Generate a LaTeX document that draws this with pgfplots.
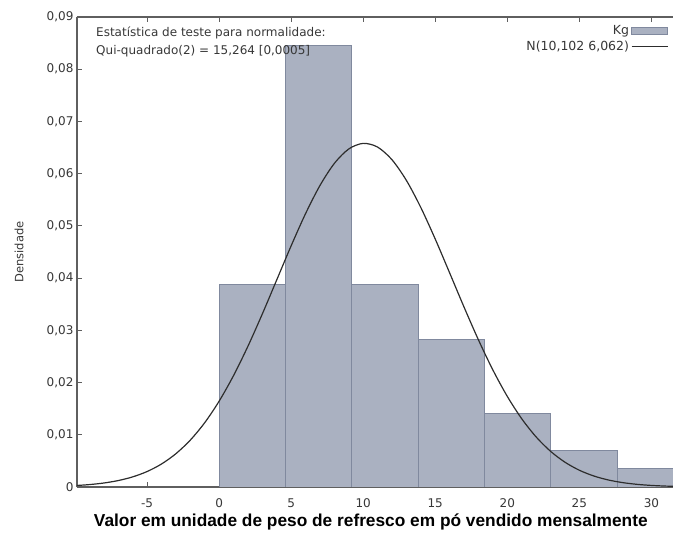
\documentclass[border=0pt]{standalone}
\usepackage{fontspec}
\setmainfont{DejaVu Sans}
\newfontfamily\labelfont{Liberation Sans}
\usepackage{pgfplots}
\pgfplotsset{compat=1.18}
\definecolor{barfill}{RGB}{170,177,193}
\definecolor{baredge}{RGB}{128,137,158}
\definecolor{curvec}{RGB}{45,45,45}
\definecolor{axisc}{RGB}{95,95,95}
\definecolor{txt}{RGB}{55,55,55}
\begin{document}
\begin{tikzpicture}
\useasboundingbox (-77pt,-46pt) rectangle (596pt,487pt);
\begin{axis}[
  at={(0,0)}, anchor=south west,
  scale only axis, width=596pt, height=470pt,
  xmin=-9.86, xmax=31.5, ymin=0, ymax=0.09,
  axis x line=box, axis y line=left,
  axis line style={draw=axisc, line width=1.1pt, -},
  every outer y axis line/.append style={-},
  every outer x axis line/.append style={-},
  tick style={draw=axisc, line width=0.9pt},
  tick align=inside,
  major tick length=5pt,
  xtick={-5,0,5,10,15,20,25,30},
  ytick={0,0.01,0.02,0.03,0.04,0.05,0.06,0.07,0.08,0.09},
  scaled y ticks=false,
  /pgf/number format/assume math mode=true,
  yticklabel style={/pgf/number format/fixed, /pgf/number format/precision=2, /pgf/number format/use comma},
  ticklabel style={font=\fontsize{12}{14}\selectfont, text=txt},
  xticklabel style={yshift=-8pt},
  xlabel={Valor em unidade de peso de refresco em pó vendido mensalmente},
  xlabel style={font=\labelfont\bfseries\fontsize{17.3}{19}\selectfont, text=black, at={(axis description cs:0.493,0)}, anchor=base, yshift=-40pt},
  ylabel={Densidade},
  ylabel style={font=\fontsize{11.5}{13}\selectfont, text=txt, at={(axis description cs:-0.0973,0.5)}, anchor=center},
  legend style={at={(axis description cs:0.992,0.986)}, anchor=north east, draw=none, fill=none,
    font=\fontsize{12.5}{14}\selectfont, text=txt, row sep=1pt, inner sep=0pt,
    /tikz/every even column/.style={column sep=9pt}},
  legend cell align=right,
  legend plot pos=right,
]
\addplot[ybar interval, fill=barfill, draw=baredge, line width=0.6pt,
  legend image code/.code={\draw[fill=barfill, draw=baredge, line width=0.6pt] (0pt,-3pt) rectangle (36pt,4pt);}]
  coordinates {
  (0.0,0.0388) (4.6,0.0846) (9.2,0.0388) (13.8,0.0282) (18.4,0.0141)
  (23.0,0.0070) (27.6,0.0035) (32.2,0.0035)
  };
\addlegendentry{Kg}
\addplot[smooth, curvec, line width=1.2pt,
  legend image code/.code={\draw[curvec, line width=1pt] (0pt,0pt) -- (36pt,0pt);}]
  coordinates {
  (-10,0.000270) (-9,0.000460) (-8,0.000763) (-7,0.001231) (-6,0.001933)
  (-5,0.002956) (-4,0.004397) (-3,0.006368) (-2,0.008972) (-1,0.012301)
  (0,0.016417) (1,0.021319) (2,0.026941) (3,0.033131) (4,0.039654)
  (5,0.046180) (6,0.052344) (7,0.057734) (8,0.061970) (9,0.064731)
  (10,0.065801) (11,0.065092) (12,0.062662) (13,0.058703) (14,0.053517)
  (15,0.047480) (16,0.040996) (17,0.034446) (18,0.028164) (19,0.022411)
  (20,0.017354) (21,0.013076) (22,0.009590) (23,0.006843) (24,0.004751)
  (25,0.003212) (26,0.002113) (27,0.001352) (28,0.000843) (29,0.000510)
  (30,0.000301) (31,0.000173) (32,0.0000966)
  };
\addlegendentry{N(10,102 6,062)}
\node[anchor=base west, text=txt, font=\fontsize{12}{14}\selectfont, inner sep=0pt, xshift=19pt, yshift=-20pt] at (rel axis cs:0,1) {Estatística de teste para normalidade:};
\node[anchor=base west, text=txt, font=\fontsize{12}{14}\selectfont, inner sep=0pt, xshift=19pt, yshift=-37pt] at (rel axis cs:0,1) {Qui-quadrado(2) = 15,264 [0,0005]};
\end{axis}
\end{tikzpicture}
\end{document}
